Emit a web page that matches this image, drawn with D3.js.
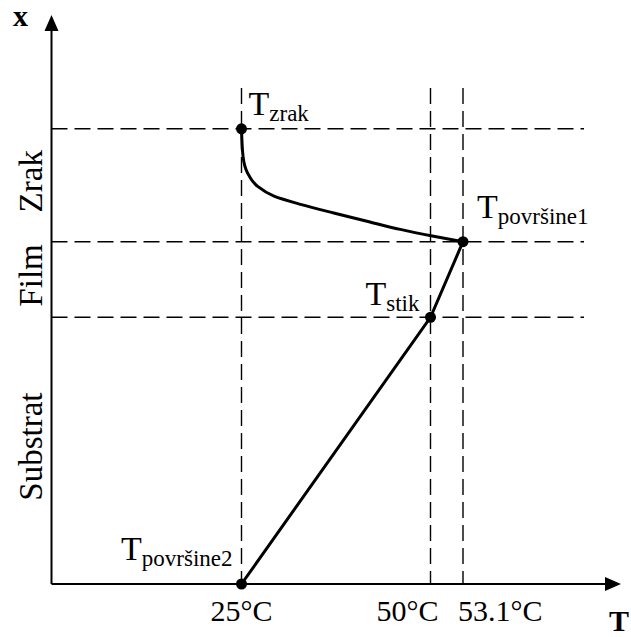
<!DOCTYPE html>
<html><head><meta charset="utf-8">
<script src="https://cdn.jsdelivr.net/npm/d3@7"></script>
<style>body{margin:0;background:#fff}svg{display:block}</style>
</head><body>
<svg id="c" width="631" height="637"></svg>
<script>
// temperatures (°C) marked on the T axis
const tempTicks = [25, 50, 53.1];
const tickLabels = ["25°C", "50°C", "53.1°C"];
// layer boundaries (position x, arbitrary units)
const layerBounds = [58.6, 75.2, 100];
const layerNames = ["Substrat", "Film", "Zrak"];
const layerFrom = [0, 58.6, 75.2];
// temperature profile in air (curve)
const airT = [25.0, 25.2, 25.8, 27.1, 29.3, 32.8, 37.2, 41.6, 46.0, 50.3, 53.1];
const airX = [100, 94.0, 90.3, 87.4, 85.2, 83.4, 81.5, 79.7, 77.9, 76.4, 75.2];
// straight profile through film and substrate
const solidT = [53.1, 50, 25];
const solidX = [75.2, 58.6, 0];
// marked points
const ptT = [25, 53.1, 50, 25];
const ptX = [100, 75.2, 58.6, 0];
const ptNames = ["zrak", "površine1", "stik", "površine2"];

const svg = d3.select("#c");
const font = "'Liberation Serif','Times New Roman',serif";
const x0 = 51.5, y0 = 584;
const sx = d3.scaleLinear().domain([25, 50, 53.1]).range([241.5, 430.5, 463]);
const sy = d3.scaleLinear().domain([0, 125]).range([y0, 15]);

// dashed vertical guides
svg.append("g").selectAll("line").data(tempTicks).join("line")
  .attr("x1", d => sx(d)).attr("x2", d => sx(d))
  .attr("y1", 88).attr("y2", y0)
  .attr("stroke", "#000").attr("stroke-width", 1.4).attr("stroke-dasharray", "16,7");
// dashed horizontal guides
svg.append("g").selectAll("line").data(layerBounds).join("line")
  .attr("x1", x0).attr("x2", 584)
  .attr("y1", d => sy(d)).attr("y2", d => sy(d))
  .attr("stroke", "#000").attr("stroke-width", 1.4).attr("stroke-dasharray", "16,7");

// axes
svg.append("line").attr("x1", x0).attr("x2", x0).attr("y1", y0).attr("y2", 28)
  .attr("stroke", "#000").attr("stroke-width", 2);
svg.append("line").attr("x1", x0).attr("x2", 607).attr("y1", y0).attr("y2", y0)
  .attr("stroke", "#000").attr("stroke-width", 2);
svg.append("path").attr("d", `M${x0},15 L${x0-7},31 L${x0+7},31 Z`).attr("fill", "#000");
svg.append("path").attr("d", `M621,${y0} L605,${y0-7} L605,${y0+7} Z`).attr("fill", "#000");

svg.append("text").attr("x", 13).attr("y", 26).text("x")
  .attr("font-family", font).attr("font-weight", "bold").attr("font-size", 30);
svg.append("text").attr("x", 609).attr("y", 631).text("T")
  .attr("font-family", font).attr("font-weight", "bold").attr("font-size", 30);

// tick labels
const tickAnchor = ["middle", "end", "start"];
const tickDx = [0, 8, -5];
svg.append("g").selectAll("text").data(tempTicks).join("text")
  .attr("x", (d, i) => sx(d) + tickDx[i]).attr("y", 621)
  .attr("text-anchor", (d, i) => tickAnchor[i])
  .attr("font-family", font).attr("font-size", 30)
  .text((d, i) => tickLabels[i]);

// layer labels (rotated)
svg.append("g").selectAll("text").data(layerNames).join("text")
  .attr("transform", (d, i) => {
    const cy = (sy(layerFrom[i]) + sy(layerBounds[i])) / 2 - 4;
    return `translate(42,${cy}) rotate(-90)`;
  })
  .attr("text-anchor", "middle")
  .attr("font-family", font).attr("font-size", 33)
  .text(d => d);

// profile
const line = d3.line().x(d => sx(d[0])).y(d => sy(d[1]));
svg.append("path").datum(airT.map((t, i) => [t, airX[i]]))
  .attr("d", line.curve(d3.curveMonotoneY))
  .attr("fill", "none").attr("stroke", "#000").attr("stroke-width", 3);
svg.append("path").datum(solidT.map((t, i) => [t, solidX[i]]))
  .attr("d", d3.line().x(d => sx(d[0])).y(d => sy(d[1])))
  .attr("fill", "none").attr("stroke", "#000").attr("stroke-width", 3);

// points
svg.append("g").selectAll("circle").data(ptT).join("circle")
  .attr("cx", d => sx(d)).attr("cy", (d, i) => sy(ptX[i])).attr("r", 5.5).attr("fill", "#000");

// point labels
const lblDx = [7, 14, -11, -9];
const lblDy = [-14, -24, -12, -24];
const lblAnchor = ["start", "start", "end", "end"];
const lbl = svg.append("g").selectAll("text").data(ptT).join("text")
  .attr("x", (d, i) => sx(d) + lblDx[i])
  .attr("y", (d, i) => sy(ptX[i]) + lblDy[i])
  .attr("text-anchor", (d, i) => lblAnchor[i])
  .attr("font-family", font).attr("font-size", 34);
lbl.append("tspan").text("T");
lbl.append("tspan").attr("font-size", 23).attr("dy", 6).text((d, i) => ptNames[i]);
</script>
</body></html>
